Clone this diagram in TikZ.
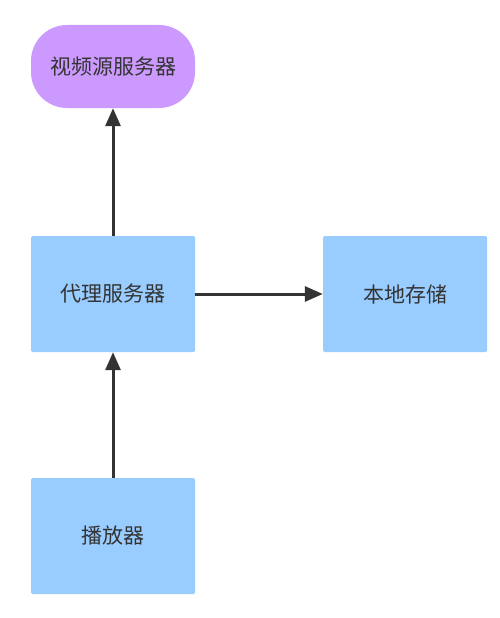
\documentclass[tikz,border=0pt]{standalone}
\usepackage{fontspec}
\setmainfont{Noto Sans CJK SC}
\usetikzlibrary{arrows.meta}
\definecolor{boxblue}{HTML}{99CCFF}
\definecolor{boxpurple}{HTML}{CC99FF}
\definecolor{ink}{HTML}{333333}
\begin{document}
\begin{tikzpicture}[x=1pt,y=-1pt,
  box/.style={fill=boxblue, draw=none, minimum width=164pt, minimum height=116pt, inner sep=0pt, text=ink, font=\fontsize{21}{25}\selectfont, rounded corners=1.5pt},
  pill/.style={fill=boxpurple, draw=none, minimum width=164pt, minimum height=83pt, inner sep=0pt, text=ink, font=\fontsize{21}{25}\selectfont, rounded corners=36pt},
  conn/.style={draw=ink, line width=3pt, -{Triangle[length=18pt,width=15pt]}}]
\useasboundingbox (0,0) rectangle (500,618);
\fill[white] (0,0) rectangle (500,618);
\node[pill] (src) at (113,66.5) {视频源服务器};
\node[box] (proxy) at (113,294) {代理服务器};
\node[box] (store) at (405,294) {本地存储};
\node[box] (player) at (113,536) {播放器};
\draw[conn] (proxy.north) -- (src.south);
\draw[conn] (proxy.east) -- (store.west);
\draw[conn] (player.north) -- (proxy.south);
\end{tikzpicture}
\end{document}
